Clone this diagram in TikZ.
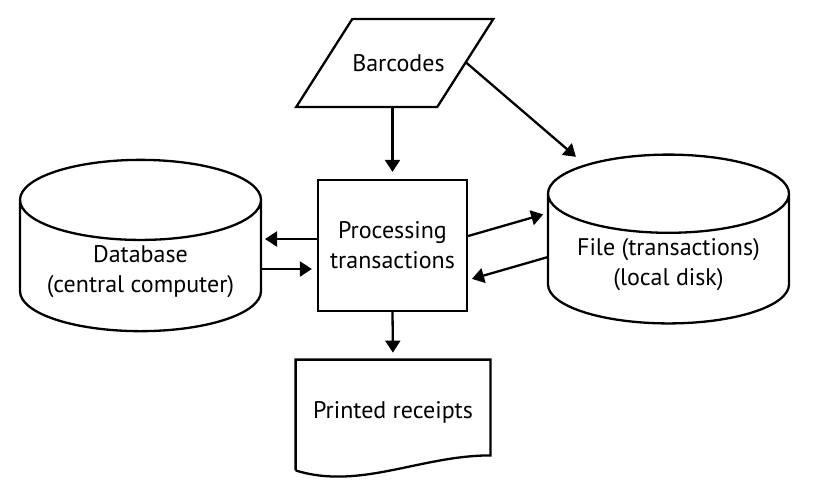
\documentclass[tikz,border=0pt]{standalone}
\usepackage{fontspec}
\setmainfont{PT Sans}
\usetikzlibrary{arrows.meta,shapes.geometric}
\tikzset{
  base/.style={draw,line width=1.15pt,align=center,font=\fontsize{12}{15}\selectfont,inner sep=2pt},
  io/.style={base,trapezium,trapezium left angle=57.5,trapezium right angle=122.5,
             text width=42.5pt,text height=8pt,text depth=0pt,inner xsep=0pt,inner ysep=18pt},
  proc/.style={base,rectangle,minimum width=74.5pt,minimum height=65.5pt},
  store/.style={base,cylinder,shape border rotate=90,aspect=0.41,
                minimum width=120.5pt,minimum height=76.5pt,anchor=shape center},
  doc/.style={align=center,font=\fontsize{12}{15}\selectfont,minimum width=97pt,minimum height=52pt},
  arr/.style={-{Triangle[length=6pt,width=7.5pt]},line width=1.15pt},
}
\begin{document}
\begin{tikzpicture}[x=0.5pt,y=-0.5pt]
  \useasboundingbox (0,0) rectangle (817,500);
  \node[io] (bar) at (394.75,63) {Barcodes};
  \node[proc] (proc) at (392.5,245.5) {Processing\\transactions};
  \node[store] (db) at (140.5,245.5) {Database\\(central computer)};
  \node[store] (file) at (668.5,239) {File (transactions)\\(local disk)};
  \node[doc] (rcpt) at (393,412) {Printed receipts};
  % document outline with wavy bottom
  \draw[line width=1.15pt] ([yshift=-3pt]rcpt.south west) -- (rcpt.north west) -- (rcpt.north east)
    -- ([yshift=4.5pt]rcpt.south east) .. controls +(-35pt,0pt) and +(32pt,-10pt) .. ([yshift=-3pt]rcpt.south west);
  % flows
  \draw[arr,shorten >=3.5pt] (bar.south -| proc.north) -- (proc.north);
  \draw[arr,shorten >=4pt] (bar.east) -- ([shift={(-43.25pt,38.5pt)}]file.shape center);
  \draw[arr,shorten >=2pt] ([yshift=3.25pt]proc.west) -- ([shift={(60.25pt,3.25pt)}]db.shape center);
  \draw[arr,shorten >=2.5pt] ([shift={(60.25pt,-11.75pt)}]db.shape center) -- ([yshift=-11.75pt]proc.west);
  \draw[arr,shorten >=2.5pt] ([yshift=4.75pt]proc.east) -- ([shift={(-60.25pt,13pt)}]file.shape center);
  \draw[arr,shorten >=2pt] ([shift={(-60.25pt,-9pt)}]file.shape center) -- ([yshift=-17.25pt]proc.east);
  \draw[arr,shorten >=3.5pt] (proc.south) -- (rcpt.north);
\end{tikzpicture}
\end{document}
